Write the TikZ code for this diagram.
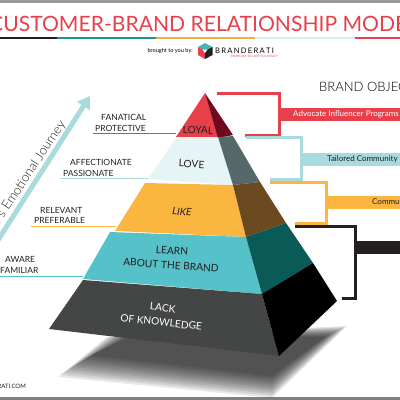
\documentclass[tikz,border=0pt]{standalone}
\usepackage{fontspec}
\usetikzlibrary{arrows.meta}
\setmainfont{Lato}
\newfontfamily\lightfont{Lato Light}
\definecolor{brandred}{HTML}{E8404A}
\definecolor{brandpale}{HTML}{A9DADC}
\definecolor{brandyellow}{HTML}{FBB63F}
\definecolor{brandteal}{HTML}{55C1C8}
\definecolor{brandgrey}{HTML}{444646}
\definecolor{brandink}{HTML}{231F20}
\definecolor{sidered}{HTML}{6E0A1E}
\definecolor{sidepale}{HTML}{55696B}
\definecolor{sideyellow}{HTML}{6B4A20}
\definecolor{sideteal}{HTML}{0A5A58}
\tikzset{
objline/.style={line width=3pt,line join=miter},
objband/.style={minimum height=13pt,minimum width=130pt,inner sep=0pt,anchor=west},
objtext/.style={anchor=west,inner sep=0pt,font=\fontsize{8}{11}\selectfont},
feel/.style={anchor=west,inner sep=0pt,font=\fontsize{8.5}{10.3}\selectfont,align=left,text=brandink},
tier/.style={font=\fontsize{10.2}{14.5}\selectfont,align=center,text=brandink}
}
\begin{document}
\begin{tikzpicture}[x=1pt,y=-1pt]
\useasboundingbox (0,0) rectangle (400,400);
\clip (0,0) rectangle (400,400);
% page edges
\fill[gray!80] (0,0) rectangle (400,3);
\fill[gray] (0,397) rectangle (400,400);
% title
\node[anchor=base west,inner sep=0pt,text=brandred,font=\fontsize{21.1}{24}\selectfont] (title) at (-11,31) {CUSTOMER-BRAND RELATIONSHIP MODEL};
\fill[brandink] (0,36.5) rectangle (57,39);
\fill[teal!70!brandteal] (57,36.5) rectangle (156,39);
\fill[brandyellow!90!gray] (156,36.5) rectangle (255,39);
\fill[brandpale!45] (255,36.5) rectangle (355,39);
\fill[brandred] (355,36.5) rectangle (400,39);
% logo
\node[anchor=east,inner sep=0pt,font=\fontsize{5.6}{7}\selectfont] (brought) at (193,51) {brought to you by:};
\fill[brandteal!80!teal] (205,43) -- (212.5,47) -- (205,51) -- (198,47) -- cycle;
\fill[brandred] (198,47) -- (205,51) -- (205,59) -- (198,55) -- cycle;
\fill[brandink] (212.5,47) -- (205,51) -- (205,59) -- (212.5,55) -- cycle;
\fill[white] (202.5,49.5) -- (207.5,49.5) -- (205,53) -- cycle;
\node[anchor=west,inner sep=0pt,font=\fontsize{7.6}{9}\selectfont] (logoname) at (215,50.5) {B\,R\,A\,N\,D\,E\,R\,A\,T\,I};
\node[anchor=east,inner sep=0pt,text=brandred,font=\fontsize{3}{4}\selectfont] (logotag) at (278,56.5) {FROM LIKE TO LOVE TO LOYALTY};
% journey arrow
\coordinate (journeystart) at (-2,240);
\coordinate (journeyend) at (90,96);
\draw[brandpale,line width=5pt,-{Triangle[width=15pt,length=12pt]}] (journeystart) -- (journeyend);
\node[rotate=56.5,anchor=east,inner sep=0pt,font=\fontsize{13}{15}\lightfont,text=brandink] (journey) at (63,122) {Customer's Emotional Journey};
% shadow
\foreach \t in {0,...,11}
  \fill[black,fill opacity=.09] (58+3*\t,377-2*\t) -- (107+2*\t,337) -- (347-2*\t,326+\t) -- (272,398-2*\t) -- cycle;
% pyramid front
\fill[brandred] (205,93) -- (218,137) -- (176,137) -- cycle;
\fill[brandpale!30] (176,138) -- (218,138) -- (233,185) -- (148,179) -- cycle;
\fill[brandyellow] (145,183) -- (233,185) -- (246,237) -- (115,231) -- cycle;
\fill[brandteal] (110,232) -- (246,237) -- (262,294) -- (83,279) -- cycle;
\fill[brandgrey] (83,280) -- (262,294) -- (279,356) -- (49,329) -- cycle;
% pyramid side
\fill[sidered] (205,93) -- (218,138) -- (233,135) -- cycle;
\fill[sidepale] (218,137) -- (233,136) -- (260,182) -- (233,185) -- cycle;
\fill[sideyellow] (233,185) -- (260,182) -- (286,223) -- (246,237) -- cycle;
\fill[sideteal] (246,237) -- (286,223) -- (313,263) -- (262,294) -- cycle;
\fill[black] (262,294) -- (313,263) -- (337,301) -- (279,356) -- cycle;
% tier names
\node[tier,rotate=-2] (loyal) at (198,130) {LOYAL};
\node[tier,rotate=-3] (love) at (191.5,164) {LOVE};
\node[tier,rotate=-4] (like) at (182,212) {\textit{LIKE}};
\node[tier,rotate=-4] (learn) at (171.5,258) {LEARN\\ABOUT THE BRAND};
\node[tier,rotate=-6.5,text=white] (lack) at (162,315) {LACK\\OF KNOWLEDGE};
% feelings
\node[feel] (fanatical) at (95,123) {\hspace*{6pt}FANATICAL\\PROTECTIVE};
\node[feel] (affectionate) at (63,168) {\hspace*{7pt}AFFECTIONATE\\PASSIONATE};
\node[feel] (relevant) at (34,215.5) {\hspace*{6pt}RELEVANT\\PREFERABLE};
\node[feel] (aware) at (0,265) {\hspace*{5pt}AWARE\\FAMILIAR};
\coordinate (fanaticalend) at (176,133.5);
\coordinate (affectionateend) at (148,178.5);
\coordinate (relevantend) at (116,226.5);
\coordinate (awareend) at (83,276.5);
\draw[brandred] (93,133.5) -- (fanaticalend);
\draw[brandpale] (60,178.5) -- (affectionateend);
\draw[brandyellow] (31,226.5) -- (relevantend);
\draw[brandteal] (0,276.5) -- (awareend);
% objectives
\node[anchor=west,inner sep=0pt,font=\fontsize{13}{15}\lightfont] (objectives) at (319,87) {BRAND OBJECTIVES};
\node[objband,fill=brandred] (advocate) at (279,114.5) {};
\node[objband,fill=brandpale] (tailored) at (301,159) {};
\node[objband,fill=brandyellow] (community) at (326,202.5) {};
\node[objband,fill=brandink] (awareness) at (355,247.5) {};
\node[objtext,text=white] (advocatetext) at (293,114.5) {Advocate Influencer Programs +};
\node[objtext,text=brandink] (tailoredtext) at (327,159) {Tailored Community Engagement};
\node[objtext,text=brandink] (communitytext) at (372,202.5) {Community};
\coordinate (loyaltop) at (217,93);
\coordinate (loyalbot) at (245,135);
\coordinate (lovetop) at (246,137.5);
\coordinate (lovebot) at (270,179);
\coordinate (liketop) at (270,182);
\coordinate (likebot) at (295,223);
\coordinate (learntop) at (295,226);
\coordinate (learnbot) at (342,298);
\draw[objline,brandred] (loyaltop) -| (advocate.west) |- (loyalbot);
\draw[objline,brandpale] (lovetop) -| (tailored.west) |- (lovebot);
\draw[objline,brandyellow] (liketop) -| (community.west) |- (likebot);
\draw[objline,brandink] (learntop) -| (awareness.west) |- (learnbot);
\node[anchor=east,inner sep=0pt,font=\fontsize{6}{8}\selectfont,text=brandink] (website) at (26,386) {WWW.BRANDERATI.COM};
\end{tikzpicture}
\end{document}
